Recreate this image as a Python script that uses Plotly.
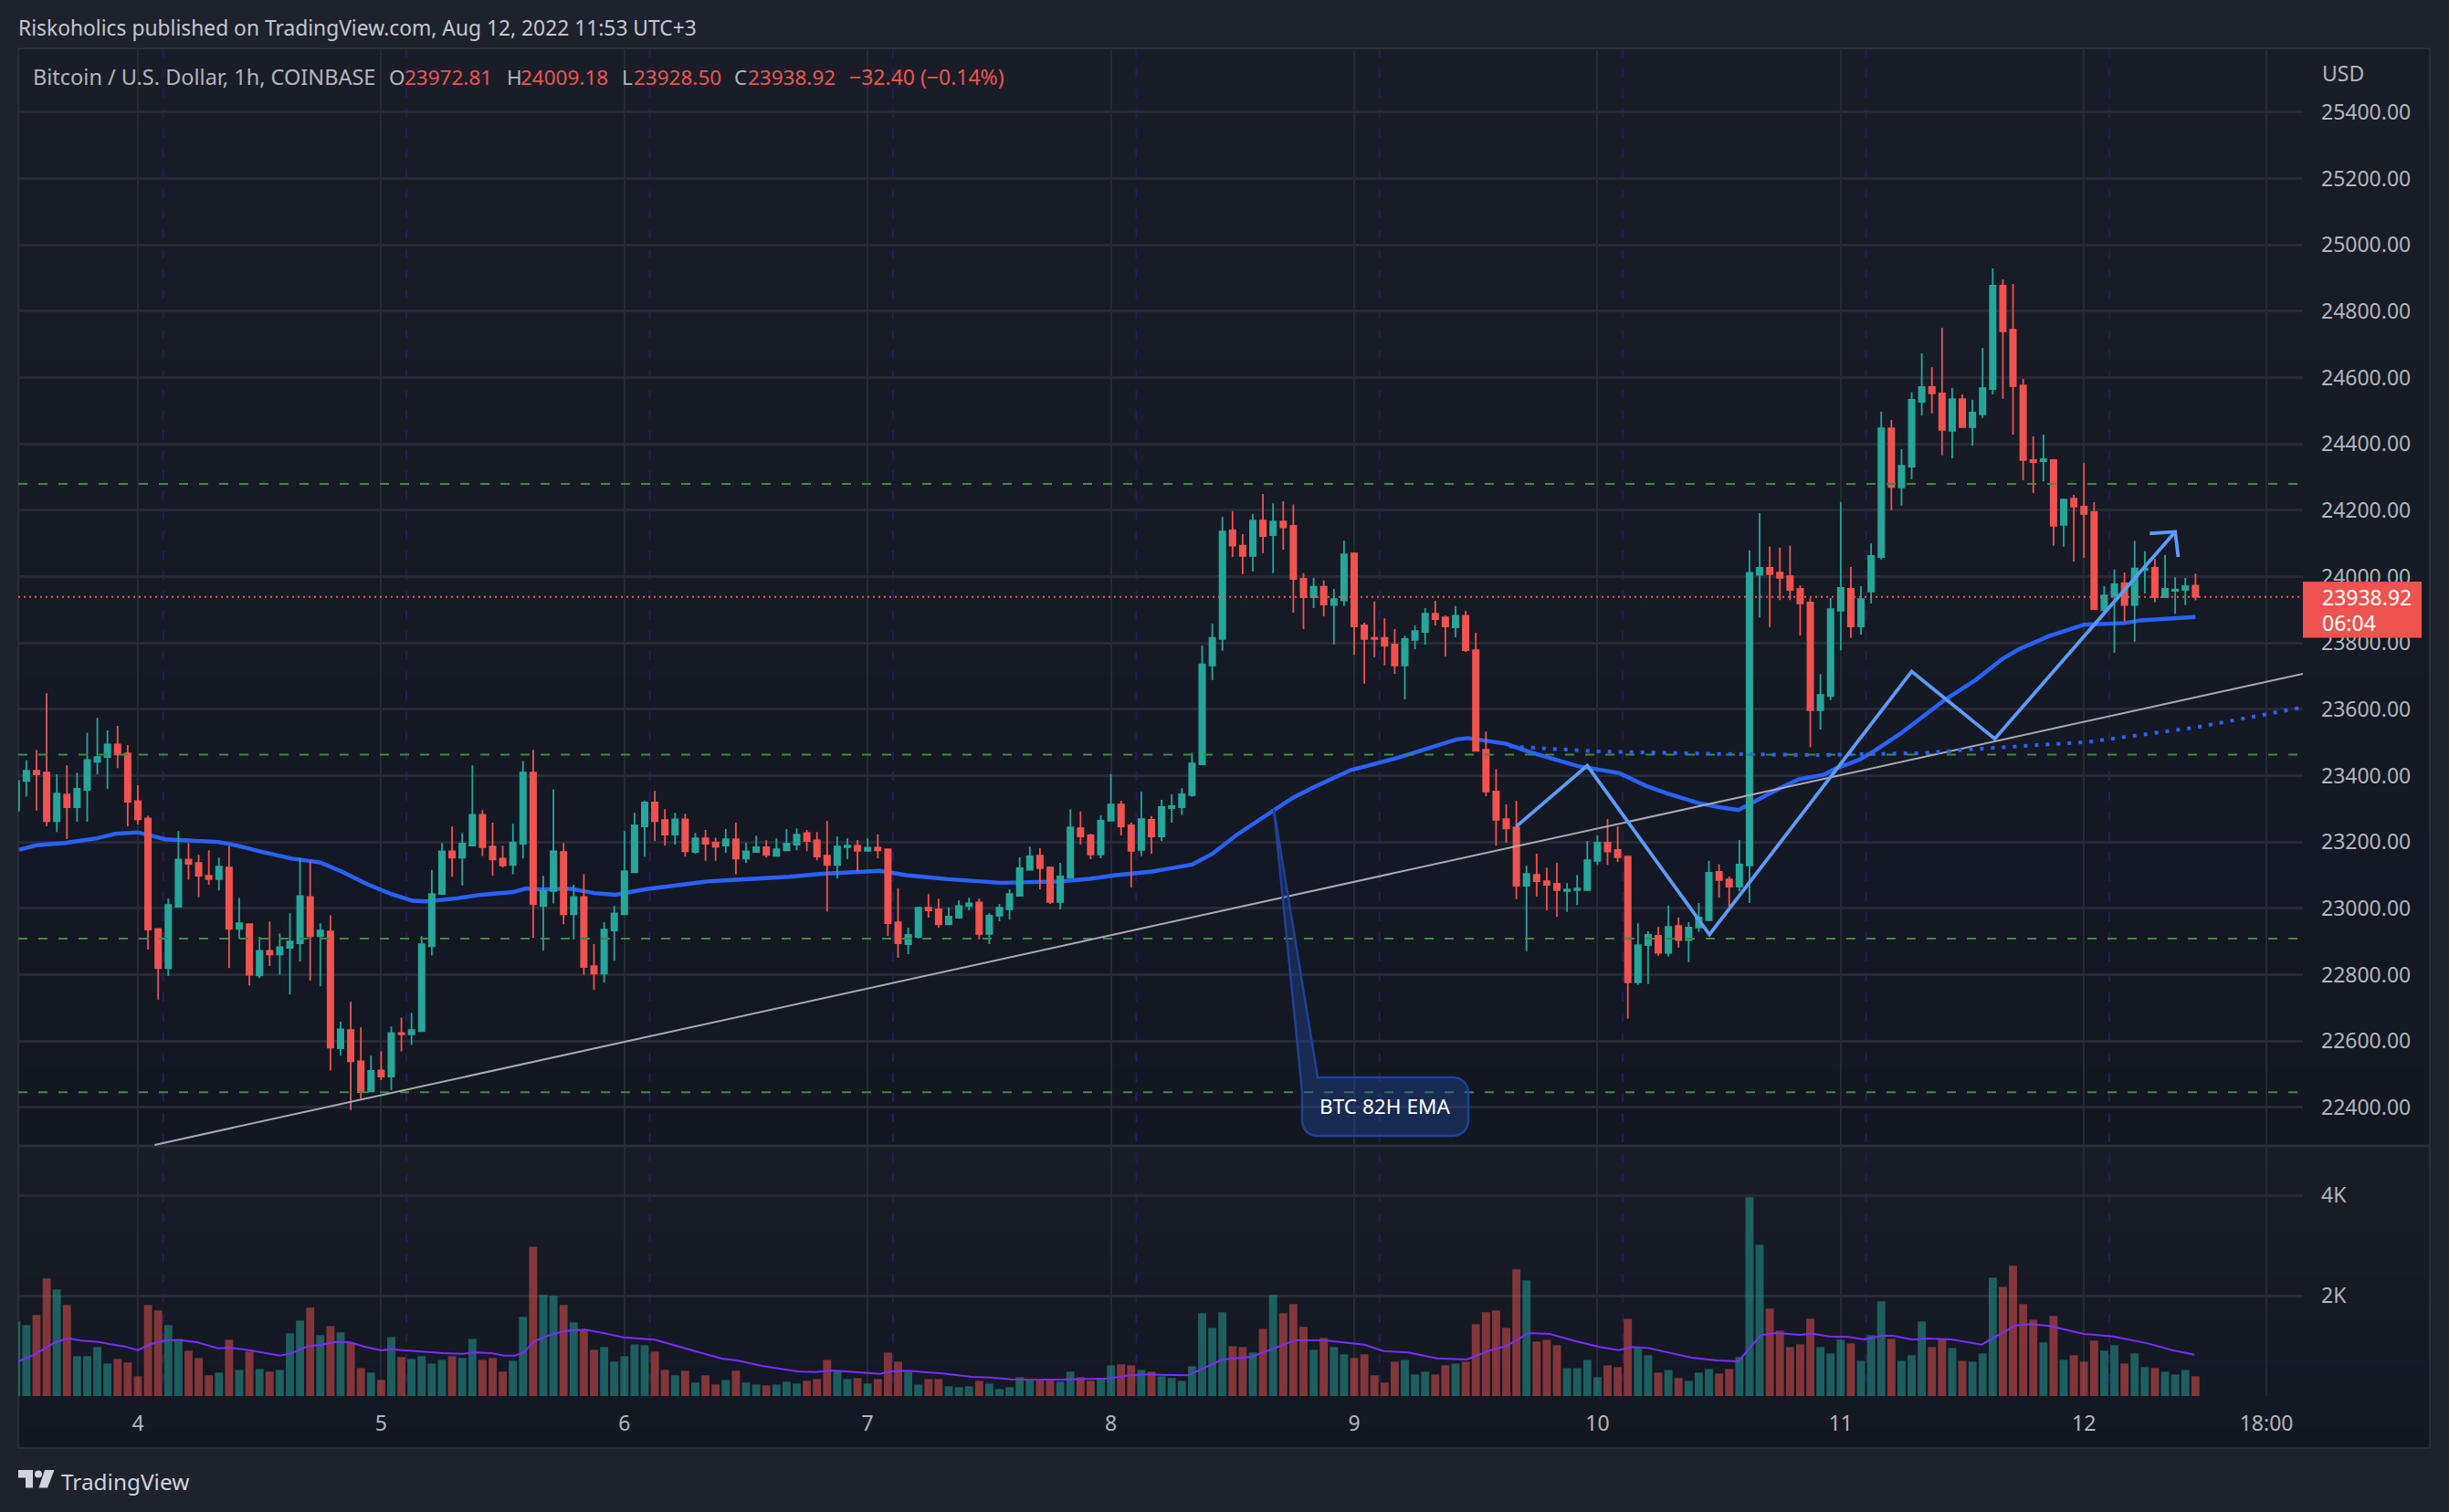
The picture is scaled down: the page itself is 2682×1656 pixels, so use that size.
import math
import pandas as pd
import plotly.graph_objects as go

W, H = 2682, 1656

# hourly bars, first bar Aug 3 2022 12:00
opens = [23295,23384,23415,23409,23263,23343,23305,23357,23442,23456,23494,23467,
23323,23271,22938,22820,23005,23147,23137,23098,23088,23123,22938,22952,22798,22872,22861,22881,22895,23034,22916,22930,22578,22633,22539,22448,
22511,22493,22624,22620,22630,22886,23043,23172,23153,23189,23282,23186,23150,23131,23195,23409,23007,23052,23170,22982,23034,22826,22803,22933,
22982,23109,23247,23319,23266,23222,23268,23170,23211,23198,23189,23208,23150,23170,23184,23158,23175,23192,23227,23205,23159,23131,23184,23189,
23173,23183,23178,22958,22892,22914,23002,22997,22952,22972,23007,23018,22923,22978,22997,23038,23116,23159,23123,23019,23093,23241,23220,23162,
23264,23313,23250,23176,23267,23217,23302,23305,23341,23434,23732,23812,24139,24093,24062,24169,24125,24166,24153,23993,23938,23969,23914,23928,
24070,23853,23815,23815,23795,23732,23809,23833,23888,23877,23847,23882,23778,23478,23352,23269,23244,23068,23101,23082,23074,23052,23055,23055,
23143,23198,23176,23156,22777,22889,22917,22866,22947,22904,22942,22964,23110,23087,23065,23129,24005,24026,24012,24001,23963,23922,23597,23640,
23897,23963,23850,23955,24059,24447,24269,24331,24527,24571,24552,24439,24535,24450,24489,24565,24877,24744,24576,24351,24348,24351,24156,24235,
24211,24194,23900,23941,23980,23914,24020,24026,23938,23957,23960,23972.81]
highs = [23384,23447,23477,23648,23404,23431,23409,23529,23574,23536,23550,23492,
23371,23279,22938,23030,23233,23197,23161,23175,23153,23187,23031,22952,22914,22960,22924,22985,23152,23143,22955,22979,22658,22718,22641,22556,
22569,22644,22671,22685,22916,23116,23197,23247,23227,23431,23296,23258,23189,23255,23444,23478,23098,23359,23197,23071,23103,22892,22958,23007,
23233,23288,23325,23354,23299,23288,23285,23227,23236,23213,23239,23258,23198,23219,23205,23211,23239,23241,23236,23230,23263,23217,23211,23206,
23211,23223,23180,23060,22942,23005,23043,23029,23002,23024,23032,23029,22986,23013,23057,23154,23186,23181,23126,23137,23299,23292,23225,23280,
23405,23324,23258,23352,23278,23327,23344,23362,23469,23792,23858,24180,24197,24128,24189,24249,24221,24227,24217,24010,23996,23988,23963,24108,
24073,23861,23925,23874,23842,23822,23853,23905,23927,23882,23911,23897,23831,23533,23420,23313,23324,23129,23165,23123,23137,23076,23101,23203,
23220,23269,23247,23156,22955,22931,22944,23008,22972,22958,23016,23143,23132,23096,23206,24079,24191,24090,24087,24093,23973,23935,23706,23935,
24224,24029,23971,24100,24497,24472,24384,24555,24673,24631,24750,24568,24549,24533,24689,24929,24896,24882,24596,24423,24428,24354,24235,24246,
24342,24224,23971,24021,24012,24108,24076,24053,24065,23998,23996,24009.18]
lows = [23295,23337,23295,23247,23230,23209,23261,23261,23404,23360,23423,23247,
23253,22876,22725,22796,23002,23086,23034,23071,23054,22820,22909,22768,22790,22826,22800,22740,22840,22782,22765,22511,22556,22392,22425,22448,
22482,22452,22569,22589,22630,22858,23043,23095,23068,23189,23158,23098,23123,23103,23150,22911,22872,23015,22952,22906,22800,22754,22776,22842,
22982,23109,23156,23203,23189,23192,23156,23164,23143,23143,23167,23103,23137,23170,23153,23156,23172,23175,23172,23145,22990,23090,23148,23111,
23170,23151,22917,22851,22862,22909,22972,22942,22950,22969,22994,22906,22892,22961,22966,23038,23116,23057,23013,22997,23090,23192,23148,23151,
23264,23220,23063,23157,23165,23203,23258,23281,23336,23434,23688,23776,24059,24007,24015,24070,24010,24081,23891,23842,23905,23880,23795,23911,
23764,23677,23757,23732,23707,23630,23781,23795,23853,23759,23817,23773,23475,23338,23189,23198,23027,22871,23035,22994,22975,22989,23010,23055,
23131,23131,23140,22667,22769,22772,22857,22855,22882,22838,22929,22964,23032,23004,23052,23016,23877,23847,23929,23929,23822,23485,23539,23628,
23778,23815,23825,23919,24051,24200,24214,24293,24486,24492,24365,24356,24450,24395,24478,24549,24536,24428,24290,24252,24287,24093,24090,24045,
24056,23900,23886,23770,23865,23804,23949,23922,23938,23888,23914,23928.50]
closes = [23384,23415,23404,23263,23346,23305,23360,23447,23456,23494,23464,23321,
23268,22936,22820,23010,23147,23134,23098,23088,23126,22938,22955,22800,22872,22861,22883,22900,23037,22916,22933,22580,22635,22539,22446,22510,
22493,22624,22620,22633,22892,23043,23172,23153,23195,23282,23184,23147,23129,23198,23409,23013,23052,23172,22982,23034,22823,22803,22936,22985,
23112,23250,23319,23263,23222,23268,23172,23211,23195,23186,23208,23150,23172,23184,23161,23178,23195,23222,23203,23156,23131,23186,23189,23173,
23183,23175,22955,22895,22920,23002,22994,22952,22975,23007,23015,22923,22978,23002,23043,23121,23157,23121,23019,23096,23244,23217,23162,23264,
23313,23247,23173,23269,23217,23305,23308,23344,23437,23735,23815,24136,24093,24062,24169,24122,24166,24148,23993,23938,23969,23916,23932,24067,
23850,23812,23812,23792,23732,23812,23836,23888,23872,23850,23882,23778,23475,23352,23267,23241,23068,23104,23082,23071,23055,23057,23060,23145,
23198,23171,23154,22777,22889,22920,22866,22944,22904,22942,22972,23107,23085,23065,23132,24011,24026,24007,23996,23960,23919,23597,23643,23902,
23966,23850,23932,24062,24447,24270,24334,24533,24571,24552,24442,24535,24450,24494,24568,24877,24739,24574,24351,24345,24354,24153,24232,24211,
24189,23902,23943,23977,23914,24024,24024,23938,23963,23961,23971,23938.92]
volumes = [1485,1412,1612,2339,2121,1812,794,794,976,648,739,667,
394,1812,1703,1412,1139,903,757,412,467,1121,521,885,539,485,521,1248,1503,1757,1212,1394,1267,1067,558,467,
321,1176,776,739,794,648,721,794,757,1139,721,757,485,703,1576,2975,2012,1994,1812,1467,1321,921,976,685,
794,1030,1012,885,521,412,503,267,412,230,321,503,267,230,212,230,285,248,303,339,721,503,339,358,
248,339,867,685,485,230,339,339,194,176,194,303,248,139,176,376,321,321,321,285,485,376,303,339,
612,630,612,521,485,394,358,303,594,1648,1357,1667,994,976,867,1339,2012,1648,1830,1376,921,1157,976,830,
757,830,412,267,685,721,430,485,430,612,648,685,1430,1667,1703,1357,2521,2303,1085,1121,1012,558,558,721,
376,612,576,1539,976,812,467,521,358,303,467,539,448,539,776,3957,3012,1739,1303,976,1030,1539,976,848,
1121,1048,703,1212,1885,1139,703,812,1485,976,1139,957,703,685,848,2357,2175,2594,1830,1521,1067,1594,721,812,
685,1103,903,1012,648,848,576,558,485,430,521,394]

# hours relative to Aug 4 00:00 for the indicator readings
ema_hours = [-11.7,-10,-7.2,-4.05,-2.2,0,1.7,2.7,7.9,9.7,12.3,15.2,18,20.1,22.7,25,27.1,28.4,31.5,33.9,37,38.3,39.8,42.7,45,47.1,50.2,53.4,56.2,58.3,64.3,67.5,73.2,75.8,79.9,85.1,91,93.9,96.5,100.1,104,106,108.4,112,114,116.1,119.7,124.1,127,130.1,131.2,135,137.3,142,146.1,148.9,151,153,154,156,157.9,159,160,162,163.9,166.3,167.5,169.9,171.4,174.05,178.3,181.3,184,185.6,188.5,192,196,197.6,203]
ema_values = [23177,23190,23197,23211,23225,23229,23216,23208,23200,23190,23170,23150,23138,23111,23072,23043,23023,23021,23030,23041,23049,23060,23057,23059,23046,23041,23058,23071,23081,23085,23095,23104,23113,23100,23088,23077,23081,23089,23100,23111,23132,23164,23221,23294,23334,23366,23417,23452,23481,23509,23513,23496,23471,23429,23408,23368,23345,23325,23317,23305,23296,23314,23330,23362,23389,23402,23421,23449,23476,23530,23629,23688,23753,23781,23820,23855,23860,23868,23878]

vma_hours = [-11.8,-10.2,-8.2,-6.9,-5.6,-3.9,-2.7,-1.3,0,1.3,2.8,4.2,5.9,7.9,9.1,11.1,14,15.1,16.8,18,19.4,20.9,22.3,24,24.9,27.2,30.1,32.1,33.2,34.9,36.1,37.2,38.1,39.1,40.4,42.1,44.1,46.1,47.9,51,54.8,57.6,59.1,61.7,65.1,66.8,68.6,71.4,73.2,74.3,76,79.4,82.3,84.2,86.2,91,93.9,95.8,97.8,99.7,103.6,105.5,107,109.9,112.3,114.2,117.1,121,122.9,125.3,128.2,131.1,133.5,135,137.2,139.3,141.8,144.2,146.1,147.5,149,153.3,155.8,157.9,160.1,161.6,164,165.2,166.9,168.8,170.3,172.2,173.2,175.1,176.5,179,181.9,185.2,186.7,188.6,192,194.9,198.3,200.7,202.9]
vma_values = [691,824,1067,1151,1103,1079,1030,988,915,1036,1109,1115,1067,951,964,909,806,848,994,1018,1073,1073,988,909,933,903,854,842,867,854,806,806,873,1091,1200,1297,1321,1248,1170,1121,897,745,709,594,491,479,509,461,442,491,503,448,382,370,333,327,345,351,412,430,412,582,727,782,976,1115,1109,1024,897,867,751,727,915,994,1254,1236,1097,976,915,976,957,764,709,691,1212,1254,1218,1242,1188,1176,1127,1206,1200,1121,1145,1127,1024,1400,1430,1394,1236,1188,1048,915,824]

# chart drawings
level_prices = [24279, 23463, 22909, 22446]
last_price = 23938.92
trend_hours = [1.65, 213.6]
trend_prices = [22287, 23707]
zig_hours = [136, 143, 155.05, 175, 183.2, 201]
zig_prices = [23247, 23430, 22921, 23714, 23511, 24135]
arrow_hours = [198.5, 201, 201.3]
arrow_prices = [24130, 24135, 24059]
dot_hours = [135.3, 144.05, 154.8, 165.5, 176.2, 181.5, 192.3, 203, 213.6]
dot_prices = [23488, 23473, 23466, 23462, 23468, 23481, 23501, 23545, 23606]
session_hours = [2.5 + 24 * d for d in range(9)]
tick_hours = [0, 24, 48, 72, 96, 120, 144, 168, 192, 210]
tick_labels = ["4", "5", "6", "7", "8", "9", "10", "11", "12", "18:00"]
price_ticks = list(range(22400, 25600, 200))

RED, TEAL = "#ef5350", "#26a69a"
FONT = "Noto Sans"
T0 = pd.Timestamp("2022-08-04 00:00")
HOUR_MS = 3600000


def at(h):
    return T0 + pd.Timedelta(hours=h)


def dates(hs):
    return [at(h) for h in hs]


def px(v):
    return v / W


def py(v):
    return 1 - v / H


times = pd.date_range("2022-08-03 12:00", periods=len(opens), freq="h")
xr = [at(-11.8), at(213.6)]
PRICE_RANGE = [22284, 25592]
edge_x = [at(-11.8), at(213.1)]

fig = go.Figure()

# EMA under the candles
fig.add_trace(go.Scatter(x=dates(ema_hours), y=ema_values, mode="lines", yaxis="y",
                         line=dict(color="#2962ff", width=4.4), hoverinfo="skip"))
fig.add_trace(go.Candlestick(x=times, open=opens, high=highs, low=lows, close=closes, yaxis="y3",
                             whiskerwidth=0,
                             increasing=dict(line=dict(color=TEAL, width=1.8), fillcolor=TEAL),
                             decreasing=dict(line=dict(color=RED, width=1.8), fillcolor=RED)))
# volume
bar_cols = ["rgba(38,166,154,0.5)" if c >= o else "rgba(239,83,80,0.5)" for o, c in zip(opens, closes)]
fig.add_trace(go.Bar(x=times, y=volumes, yaxis="y2", marker=dict(color=bar_cols, line_width=0),
                     width=0.8 * HOUR_MS))
fig.add_trace(go.Scatter(x=dates(vma_hours), y=vma_values, mode="lines", yaxis="y2",
                         line=dict(color="#7b2cff", width=2)))

# drawings above candles
for lvl in level_prices:
    fig.add_trace(go.Scatter(x=edge_x, y=[lvl, lvl], mode="lines", yaxis="y4",
                             line=dict(color="#388e3c", width=2, dash="10px,12px")))
fig.add_trace(go.Scatter(x=xr, y=[last_price, last_price], mode="lines", yaxis="y4",
                         line=dict(color=RED, width=2, dash="2px,4px")))
fig.add_trace(go.Scatter(x=dates(trend_hours), y=trend_prices, mode="lines", yaxis="y4",
                         line=dict(color="#a9abb3", width=2)))
fig.add_trace(go.Scatter(x=dates(dot_hours), y=dot_prices, mode="lines", yaxis="y4",
                         line=dict(color="#2962ff", width=4, dash="4px,8px")))
fig.add_trace(go.Scatter(x=dates(zig_hours), y=zig_prices, mode="lines", yaxis="y4",
                         line=dict(color="#5b9cf6", width=3.8)))
fig.add_trace(go.Scatter(x=dates(arrow_hours), y=arrow_prices, mode="lines", yaxis="y4",
                         line=dict(color="#5b9cf6", width=3.8)))

shapes = []
# pane gradients


def mix(t):
    a, b = (25, 29, 40), (18, 23, 34)
    return "rgb(%d,%d,%d)" % tuple(round(p + (q - p) * t) for p, q in zip(a, b))


for top, bot in [(53, 1255), (1255, 1586)]:
    n = 14
    for i in range(n):
        y0 = top + (bot - top) * i / n
        y1 = top + (bot - top) * (i + 1) / n
        shapes.append(dict(type="rect", xref="paper", yref="paper", layer="below",
                           x0=px(20), x1=px(2661), y0=py(y0), y1=py(y1),
                           fillcolor=mix((i + 0.5) / n), line_width=0))
# session breaks
for h in session_hours:
    shapes.append(dict(type="line", xref="x", yref="paper", layer="below", x0=at(h), x1=at(h),
                       y0=py(53), y1=py(1529), line=dict(color="#2c1a5e", width=2, dash="10px,12px")))
# frame
shapes.append(dict(type="rect", xref="paper", yref="paper", x0=px(20), x1=px(2661), y0=py(53), y1=py(1586),
                   line=dict(color="#2a2e39", width=2), layer="below"))
shapes.append(dict(type="line", xref="paper", yref="paper", x0=px(20), x1=px(2661), y0=py(1255), y1=py(1255),
                   line=dict(color="#2a2e39", width=3), layer="below"))


def pth(points):
    return "M " + " L ".join("%.5f,%.5f" % (px(a), py(b)) for a, b in points) + " Z"


# callout
r = 16
call = [(1395, 886), (1443, 1180)]
for cx, cy, a0 in [(1608 - r, 1180 + r, -90), (1608 - r, 1244 - r, 0), (1426 + r, 1244 - r, 90)]:
    for k in range(0, 5):
        ang = math.radians(a0 + k * 22.5)
        call.append((cx + r * math.cos(ang), cy + r * math.sin(ang)))
call.append((1426, 1195))
shapes.append(dict(type="path", xref="paper", yref="paper", path=pth(call),
                   fillcolor="rgba(33,70,160,0.38)", line=dict(color="#1f4296", width=2.5)))
# last-price tag
shapes.append(dict(type="rect", xref="paper", yref="paper", x0=px(2522), x1=px(2652), y0=py(637), y1=py(698.6),
                   fillcolor=RED, line_width=0))
# logo
LOGO = "#d1d4dc"
shapes.append(dict(type="path", xref="paper", yref="paper", line_width=0, fillcolor=LOGO,
                   path=pth([(20, 1610), (36, 1610), (36, 1629.5), (28, 1629.5), (28, 1618.5), (20, 1618.5)])))
shapes.append(dict(type="circle", xref="paper", yref="paper", line_width=0, fillcolor=LOGO,
                   x0=px(38), x1=px(46), y0=py(1610.5), y1=py(1618.5)))
shapes.append(dict(type="path", xref="paper", yref="paper", line_width=0, fillcolor=LOGO,
                   path=pth([(49, 1610), (59.5, 1610), (52, 1629.5), (42.5, 1629.5)])))


def txt(x, y, s, color="#b2b5be", size=23, anchor="left"):
    return dict(text=s, x=px(x), y=py(y), xref="paper", yref="paper", showarrow=False,
                xanchor=anchor, yanchor="middle", align="left",
                font=dict(family=FONT, size=size, color=color))


ann = [
    txt(18, 31, "Riskoholics published on TradingView.com, Aug 12, 2022 11:53 UTC+3", "#c4c7d0", 22.8),
    txt(34, 84, "Bitcoin / U.S. Dollar, 1h, COINBASE", "#b2b5be", 23.5),
    txt(424, 84, "O", "#b2b5be", 22.5), txt(441, 84, "23972.81", RED, 22.5),
    txt(553, 84, "H", "#b2b5be", 22.5), txt(568, 84, "24009.18", RED, 22.5),
    txt(679, 84, "L", "#b2b5be", 22.5), txt(692, 84, "23928.50", RED, 22.5),
    txt(802, 84, "C", "#b2b5be", 22.5), txt(817, 84, "23938.92", RED, 22.5),
    txt(928, 84, "\u221232.40 (\u22120.14%)", RED, 23),
    txt(2541, 80, "USD", "#b2b5be", 23),
    txt(2541, 654, "23938.92", "#ffffff", 23),
    txt(2541, 682, "06:04", "#ffffff", 23),
    txt(1517, 1211, "BTC 82H EMA", "#ffffff", 22.6, "center"),
    txt(65, 1622, "TradingView", "#d1d4dc", 24.4),
]

GRID = "#272a35"
fig.update_layout(
    width=W, height=H, autosize=False, margin=dict(l=0, r=0, t=0, b=0, autoexpand=False),
    paper_bgcolor="#1e222d", plot_bgcolor="rgba(0,0,0,0)", showlegend=False, hovermode=False,
    bargap=0.2, boxgap=0.2, boxgroupgap=0.3, shapes=shapes, annotations=ann,
    xaxis=dict(domain=[px(20), px(2522)], range=xr, type="date", anchor="y2", rangeslider=dict(visible=False),
               tickmode="array", tickvals=dates(tick_hours), ticktext=tick_labels, showgrid=True, gridcolor=GRID,
               gridwidth=2, ticklen=0, zeroline=False, showline=False, ticklabelstandoff=14,
               tickfont=dict(family=FONT, size=23, color="#b2b5be")),
    yaxis=dict(domain=[py(1255), py(53)], range=PRICE_RANGE, side="right", anchor="x", tickmode="array",
               tickvals=price_ticks, tickformat=".2f", showgrid=True, gridcolor=GRID, gridwidth=2.5, ticklen=0,
               zeroline=False, showline=False, ticklabelstandoff=19, tickfont=dict(family=FONT, size=23, color="#b2b5be")),
    yaxis2=dict(domain=[py(1529), py(1255)], range=[0, 4982], side="right", anchor="x", tickmode="array",
                tickvals=[2000, 4000], ticktext=["2K", "4K"], showgrid=True, gridcolor=GRID, gridwidth=2.5, ticklen=0,
                zeroline=False, showline=False, ticklabelstandoff=19, tickfont=dict(family=FONT, size=23, color="#b2b5be")),
    yaxis3=dict(overlaying="y", range=PRICE_RANGE, side="right", anchor="x", visible=False),
    yaxis4=dict(overlaying="y", range=PRICE_RANGE, side="right", anchor="x", visible=False),
)

fig.write_html("out.html", config={"displayModeBar": False},
               post_script="document.body.style.margin='0';document.body.style.overflow='hidden';")
